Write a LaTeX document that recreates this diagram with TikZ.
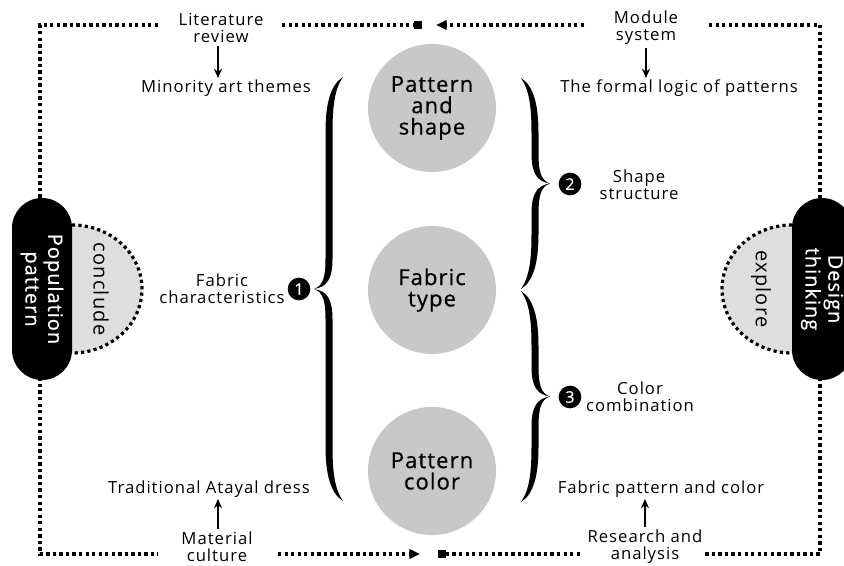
\documentclass[tikz,border=0pt]{standalone}
\usepackage{fontspec}
\setmainfont{Open Sans}[LetterSpace=6]
\newfontfamily\medfont{Open Sans}[FakeBold=0.6,LetterSpace=5]
\usetikzlibrary{arrows.meta}
\definecolor{circgray}{RGB}{200,200,200}
\definecolor{semigray}{RGB}{222,222,222}
\newcommand\calbrace[4]{% #1 body x, #2 top y, #3 bottom y, #4 sign (+1 tip left, -1 tip right)
  \pgfmathsetmacro\ym{(#2+#3)/2}
  \fill ({#1+#4*14},#2) .. controls ({#1+#4*1},{#2+8}) and ({#1-#4*3.5},{#2+28}) .. ({#1-#4*3.5},{#2+55})
    -- ({#1-#4*3.5},{\ym-30}) .. controls ({#1-#4*3.5},{\ym-12}) and ({#1-#4*6},{\ym-3}) .. ({#1-#4*15},\ym)
    .. controls ({#1-#4*6},{\ym+3}) and ({#1-#4*3.5},{\ym+12}) .. ({#1-#4*3.5},{\ym+30})
    -- ({#1-#4*3.5},{#3-55}) .. controls ({#1-#4*3.5},{#3-28}) and ({#1+#4*1},{#3-8}) .. ({#1+#4*14},#3)
    .. controls ({#1+#4*5.5},{#3-12}) and ({#1+#4*3.5},{#3-30}) .. ({#1+#4*3.5},{#3-55})
    -- ({#1+#4*3.5},{\ym+30}) .. controls ({#1+#4*3.5},{\ym+10}) and ({#1-#4*2},{\ym+2}) .. ({#1-#4*15},\ym)
    .. controls ({#1-#4*2},{\ym-2}) and ({#1+#4*3.5},{\ym-10}) .. ({#1+#4*3.5},{\ym-30})
    -- ({#1+#4*3.5},{#2+55}) .. controls ({#1+#4*3.5},{#2+30}) and ({#1+#4*5.5},{#2+12}) .. ({#1+#4*14},#2) -- cycle;
}
\begin{document}
\begin{tikzpicture}[x=0.75pt,y=-0.75pt,
  frame/.style={line width=2.6pt, dash pattern=on 2.5pt off 2.4pt},
  semidot/.style={line width=2.4pt, dash pattern=on 2.4pt off 2.4pt},
  txt/.style={font=\fontsize{12.5}{12.5}\selectfont, align=center, inner sep=1pt},
  circ/.style={circle, fill=circgray, minimum size=96pt, inner sep=0pt, align=center,
    font=\medfont\fontsize{16.5}{16}\selectfont},
  pill/.style={fill=black, text=white, rounded corners=22.5pt, minimum width=136.5pt,
    minimum height=45pt, inner sep=0pt, align=center, rotate=-90,
    font=\medfont\fontsize{15}{17}\selectfont},
  semitxt/.style={rotate=-90, font=\fontsize{15}{15}\selectfont, inner sep=0pt},
  badge/.style={circle, fill=black, text=white, minimum size=17pt, inner sep=0pt,
    font=\medfont\fontsize{12}{12}\selectfont},
  arr/.style={line width=1.5pt, -{Stealth[length=7pt,width=6pt]}},
  sq/.style={fill=black, minimum size=5.5pt, inner sep=0pt}
]
\clip (0,0) rectangle (844,566);
\useasboundingbox (0,0) rectangle (844,566);
\fill[white] (0,0) rectangle (844,566);

% frame corners and ends
\coordinate (TL) at (40,25);
\coordinate (TR) at (820,25);
\coordinate (BL) at (40,554);
\coordinate (BR) at (820,554);
\coordinate (t1) at (158,25);
\coordinate (t2) at (282,25);
\coordinate (t3) at (584,25);
\coordinate (t4) at (709,25);
\coordinate (ta) at (436,25);
\coordinate (b1) at (158,554);
\coordinate (b2) at (278,554);
\coordinate (b3) at (583,554);
\coordinate (b4) at (705,554);
\coordinate (ba) at (420,554);
\node[sq] (sqt) at (418,25) {};
\node[sq] (sqb) at (442,554) {};

\draw[frame] (t1) -- (TL) -- (BL) -- (b1);
\draw[frame] (t4) -- (TR) -- (BR) -- (b4);
\draw[frame] (t2) -- (sqt.west);
\draw[frame,-{Triangle[length=8pt,width=7pt]}] (t3) -- (ta);
\draw[frame,-{Triangle[length=8pt,width=7pt]}] (b2) -- (ba);
\draw[frame] (sqb.east) -- (b3);

% semicircles
\filldraw[fill=semigray, semidot] (72,225) arc[start angle=-90, end angle=90, x radius=70, y radius=64];
\filldraw[fill=semigray, semidot] (792,225) arc[start angle=-90, end angle=-270, x radius=70, y radius=64];
\node[semitxt] (concl) at (101,289) {conclude};
\node[semitxt] (expl) at (761,289) {explore};

% pills
\node[pill] (pop) at (42,289) {Population\\pattern};
\node[pill] (des) at (822,289) {Design\\thinking};

% circles
\node[circ] (c1) at (432,108) {Pattern\\and\\shape};
\node[circ] (c2) at (432,290) {Fabric\\type};
\node[circ] (c3) at (432,471) {Pattern\\color};

% braces
\calbrace{329}{77}{501}{1}
\calbrace{535}{78}{289}{-1}
\calbrace{535}{291}{502}{-1}

% texts
\node[txt] (lit) at (221,28) {Literature\\review};
\node[txt] (mod) at (646,28) {Module\\system};
\node[txt] (min) at (226,88) {Minority art themes};
\node[txt] (flp) at (679,88) {The formal logic of patterns};
\node[txt] (fch) at (222,289) {Fabric\\characteristics};
\node[badge] (n1) at (299,289) {1};
\node[badge] (n2) at (570,184) {2};
\node[badge] (n3) at (570,397) {3};
\node[txt] (ss) at (639,185) {Shape\\structure};
\node[txt] (cc) at (640,397) {Color\\combination};
\node[txt] (tad) at (209,489) {Traditional Atayal dress};
\node[txt] (fpc) at (661,489) {Fabric pattern and color};
\node[txt] (mat) at (217,547) {Material\\culture};
\node[txt] (res) at (645,547) {Research and\\analysis};

\draw[arr] (lit.south) ++(-3,2) coordinate (la) -- (la |- min.north);
\draw[arr] (mod.south) ++(0,2) coordinate (ma) -- (ma |- flp.north);
\draw[arr] (mat.north) ++(1,-2) coordinate (mta) -- (mta |- tad.south);
\draw[arr] (res.north) ++(0,-2) coordinate (rsa) -- (rsa |- fpc.south);
\end{tikzpicture}
\end{document}
